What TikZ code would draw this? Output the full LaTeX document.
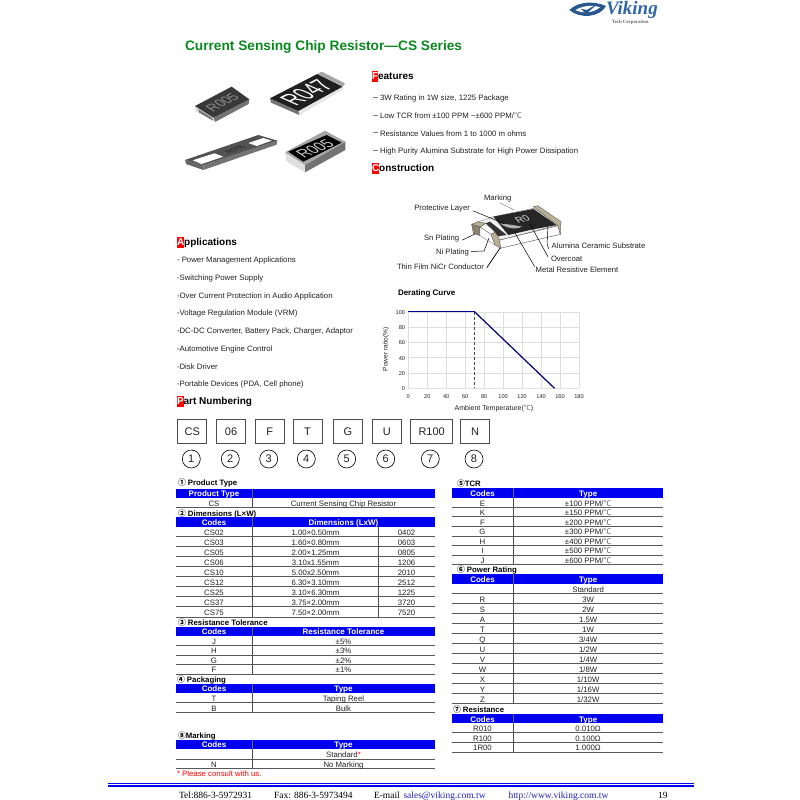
\documentclass[tikz,border=0pt]{standalone}
\usepackage{fontspec}
\setmainfont{Liberation Sans}
\newfontfamily\seriffam{Liberation Serif}
\newfontfamily\cjkf{Noto Sans CJK SC}
\newcommand{\degC}{{\cjkf\color{txt!70}℃}}
\definecolor{txt}{HTML}{222222}
\definecolor{hdrblue}{HTML}{0000F0}
\definecolor{titlegreen}{HTML}{0A8A1E}
\definecolor{linkblue}{HTML}{2020C0}
\definecolor{logoblue}{HTML}{2F66A8}
\definecolor{capTan}{HTML}{B8AF95}
\newcounter{rowno}
\tikzset{
 x=1pt,y=-1pt,
 every node/.style={inner sep=0pt,outer sep=0pt,text=txt},
 body/.style={anchor=mid west,yshift=-1pt,font=\fontsize{7.8}{9}\selectfont},
 head/.style={anchor=mid west,yshift=-1.3pt,font=\fontsize{10}{11}\selectfont\bfseries,text=black},
 sect/.style={anchor=mid west,yshift=-0.8pt,font=\fontsize{7.8}{9}\selectfont\bfseries,text=black},
 cell/.style={font=\fontsize{7.8}{9}\selectfont,anchor=mid,yshift=-0.9pt},
 hcell/.style={font=\fontsize{8}{9}\selectfont\bfseries,text=white,anchor=mid,yshift=-0.7pt},
 rule/.style={draw=black!65,line width=0.8pt},
 vrule/.style={draw=black!70,line width=0.7pt},
 hdrbar/.style={fill=hdrblue},
 lab/.style={anchor=mid west,yshift=-0.8pt,font=\fontsize{7.7}{9}\selectfont},
 leader/.style={draw=black,line width=0.5pt},
 partbox/.style={draw=black!70,line width=0.9pt,minimum height=24pt,font=\fontsize{11}{12}\selectfont},
 partnum/.style={draw=black,line width=0.6pt,circle,minimum size=18pt,font=\fontsize{11}{12}\selectfont},
 axisnum/.style={font=\fontsize{5.6}{6}\selectfont},
 grid line/.style={draw=black!13,line width=0.4pt},
 foot/.style={anchor=mid west,font=\fontsize{9.5}{11}\selectfont\seriffam,text=black},
 chiptext/.style={font=\fontsize{#1}{#1}\selectfont},
}
% x0 xsplit x1 ybottom left right
\newcommand{\Row}[6]{\stepcounter{rowno}%
 \draw[rule] (#1,#4) -- (#3,#4);
 \node[cell] (ca\arabic{rowno}) at ({(#1+#2)/2},{#4-4.8}) {#5};
 \node[cell] (cb\arabic{rowno}) at ({(#2+#3)/2},{#4-4.8}) {#6};}
% x0 xsplit x1 ytop ybot left right
\newcommand{\Hdr}[7]{\stepcounter{rowno}%
 \fill[hdrbar] (#1,#4) rectangle (#3,#5);
 \draw[black!60,line width=0.4pt] (#2,#4) -- (#2,#5);
 \node[hcell] (ha\arabic{rowno}) at ({(#1+#2)/2},{(#4+#5)/2}) {#6};
 \node[hcell] (hb\arabic{rowno}) at ({(#2+#3)/2},{(#4+#5)/2}) {#7};}
\newcommand{\Hd}[5]{\node[head] (#1) at (#2,#3) {\setlength{\fboxsep}{0pt}\colorbox{red}{\rule[-2pt]{0pt}{10.5pt}\textcolor{white}{#4}}#5};}
\begin{document}
\begin{tikzpicture}
\useasboundingbox (0,0) rectangle (800,800);
\fill[white] (0,0) rectangle (800,800);

% ---------- logo
\begin{scope}[shift={(550,0)},scale=1/3]
 \fill[logoblue!85!black] (58,30) .. controls (85,3) and (135,3) .. (168,18) .. controls (150,52) and (90,58) .. (58,30) -- cycle;
 \fill[white] (76,30) .. controls (98,17) and (128,14) .. (150,22) .. controls (132,38) and (98,42) .. (76,30) -- cycle;
 \fill[logoblue!85!black] (92,26) -- (108,42) -- (142,12) -- (110,30) -- cycle;
\end{scope}
\node[anchor=mid west,font=\fontsize{19}{19}\selectfont\seriffam\bfseries\itshape,text=logoblue] (logo) at (606,12) {Viking};
\node[anchor=mid west,font=\fontsize{4.8}{5}\selectfont\seriffam\bfseries,text=black!60] (logosub) at (612,20.5) {Tech Corporation};

% ---------- title
\node[anchor=mid west,font=\fontsize{13.7}{16}\selectfont\bfseries,text=titlegreen] (title) at (185,47.5) {Current Sensing Chip Resistor—CS Series};

% ---------- chip photos
\begin{scope}[shift={(170,70)},scale=1/3]
 % chip 1
 \fill[black!55] (130,143) -- (238,88) -- (236,102) -- (135,156) -- cycle;
 \fill[black!15] (75,108) -- (130,143) -- (135,156) -- (78,124) -- cycle;
 \fill[black!55] (85,118) -- (125,143) -- (130,152) -- (88,128) -- cycle;
 \fill[black!78] (75,108) -- (185,50) -- (238,88) -- (130,143) -- cycle;
 \node[chiptext=15,text=black!45,cm={.76,.40,-.80,.51,(0,0)}] (chipa) at (157,97) {R005};
 % chip 2
 \fill[black!10] (385,123) -- (522,50) -- (518,60) -- (388,135) -- cycle;
 \fill[black!55] (300,85) -- (385,123) -- (388,135) -- (303,98) -- cycle;
 \fill[black!88] (300,85) -- (442,12) -- (518,50) -- (385,123) -- cycle;
 \fill[black!35] (442,12) -- (455,5) -- (525,40) -- (518,50) -- cycle;
 \node[chiptext=22,text=white,cm={.74,.38,-1.16,.52,(0,0)}] (chipb) at (410,68) {R047};
 % chip 3
 \fill[black!55] (100,285) -- (322,212) -- (320,224) -- (100,300) -- cycle;
 \fill[black!60] (45,270) -- (100,285) -- (100,300) -- (48,282) -- cycle;
 \fill[black!68] (45,270) -- (265,195) -- (322,212) -- (100,285) -- cycle;
 \fill[white] (68,271) -- (133,250) -- (160,260) -- (95,282) -- cycle;
 \fill[white] (235,219) -- (280,204) -- (305,212) -- (260,228) -- cycle;
 \node[chiptext=8,text=black!90,cm={.9,.31,-1.0,.27,(0,0)}] (chipc) at (196,238) {R005};
 % chip 4
 \fill[black!12] (345,247) -- (405,285) -- (405,307) -- (350,275) -- cycle;
 \fill[black!55] (405,285) -- (526,215) -- (526,240) -- (405,307) -- cycle;
 \fill[black!35] (345,247) -- (465,182) -- (526,215) -- (405,285) -- cycle;
 \fill[black] (355,245) -- (470,195) -- (515,218) -- (400,275) -- cycle;
 \node[chiptext=15,text=white!80!black,cm={.87,.38,-.92,.61,(0,0)}] (chipd) at (435,236) {R005};
\end{scope}

% ---------- features
\Hd{features}{372}{76}{F}{eatures}
\foreach \yy/\ttx [count=\i] in {97/{3W Rating in 1W size, 1225 Package},
 115/{Low TCR from ±100 PPM \textasciitilde ±600 PPM/\degC},
 132.5/{Resistance Values from 1 to 1000 m ohms},
 150/{High Purity Alumina Substrate for High Power Dissipation}}{
 \draw[black!50,line width=0.5pt] (373,\yy) -- (378,\yy);
 \node[body] (feat\i) at (380,\yy) {\ttx};
}
\Hd{construction}{372}{168}{C}{onstruction}

% ---------- construction drawing
\begin{scope}[shift={(465,195)},scale=1/3]
 \fill[black!6,draw=black!60,line width=0.3pt] (35,82) -- (85,65) -- (205,40) -- (285,88) -- (105,135) -- cycle;
 \fill[black!85] (85,65) -- (205,42) -- (275,90) -- (195,105) -- (130,120) -- cycle;
 \fill[black!30] (105,85) .. controls (130,88) and (155,92) .. (172,95) .. controls (150,105) and (125,100) .. (105,85) -- cycle;
 \node[chiptext=11,text=black!15,cm={.9,.2,-.6,.7,(0,0)}] (chipe) at (172,72) {R0};
 \fill[white,draw=black!70,line width=0.4pt] (105,135) -- (280,92) -- (286,118) -- (105,160) -- cycle;
 \fill[capTan,draw=black!70,line width=0.3pt] (205,35) -- (218,32) -- (288,80) -- (286,118) -- (278,92) -- cycle;
 \fill[black!80] (62,85) -- (75,80) -- (125,120) -- (90,125) -- cycle;
 \fill[white,draw=black!60,line width=0.3pt] (45,96) -- (62,85) -- (90,112) -- (78,118) -- cycle;
 \fill[capTan,draw=black!70,line width=0.3pt] (20,88) -- (38,80) -- (62,85) -- (45,96) -- cycle;
 \fill[capTan!75!black,draw=black!70,line width=0.3pt] (20,88) -- (45,96) -- (45,122) -- (25,115) -- cycle;
 \fill[white,draw=black!60,line width=0.3pt] (45,96) -- (78,118) -- (90,150) -- (45,122) -- cycle;
 \fill[capTan,draw=black!70,line width=0.3pt] (78,118) -- (90,112) -- (100,125) -- (108,160) -- (90,150) -- cycle;
\end{scope}
\node[lab] (lmark) at (484,196.7) {Marking};
\node[lab] (lprot) at (414.3,207.3) {Protective Layer};
\node[lab] (lsn) at (424,236.7) {Sn Plating};
\node[lab] (lni) at (436,251) {Ni Plating};
\node[lab] (lthin) at (397,266) {Thin Film NiCr Conductor};
\node[lab] (lalu) at (551.7,245) {Alumina Ceramic Substrate};
\node[lab] (lover) at (551,258) {Overcoat};
\node[lab] (lmetal) at (535.7,269) {Metal Resistive Element};
\coordinate (pmark) at (514,210);
\coordinate (pprot) at (505,224);
\coordinate (psn) at (475,234);
\coordinate (pni) at (489,238);
\coordinate (pthin) at (500,248);
\coordinate (palu) at (548,227);
\coordinate (pover) at (530,224);
\coordinate (pmetal) at (515,233);
\draw[leader,black!50] (lmark.south) ++(2,1) -- (pmark);
\draw[leader] (lprot.east) ++(3,2) -- (pprot);
\draw[leader] (lsn.east) ++(3,2) -- (psn);
\draw[leader] (lni.east) ++(2,-1) -- (484,251) -- (pni);
\draw[leader,line width=0.7pt] (lthin.east) ++(3,1) -- (pthin);
\draw[leader] (lalu.west) ++(-3,3) -- (547,244) -- (palu);
\draw[leader] (lover.west) ++(-3,-2) -- (pover);
\draw[leader] (lmetal.west) ++(-1,-3) -- (pmetal);

% ---------- applications
\Hd{applications}{177}{242}{A}{pplications}
\foreach \yy/\ttx [count=\i] in {259/{- Power Management Applications},
 277/{-Switching Power Supply},
 295/{-Over Current Protection in Audio Application},
 312/{-Voltage Regulation Module (VRM)},
 330/{-DC-DC Converter, Battery Pack, Charger, Adaptor},
 348/{-Automotive Engine Control},
 366/{-Disk Driver},
 383/{-Portable Devices (PDA, Cell phone)}}{
 \node[body] (app\i) at (177,\yy) {\ttx};
}
\Hd{partnumbering}{177}{401}{P}{art Numbering}

% ---------- derating curve
\node[anchor=mid west,yshift=-0.8pt,font=\fontsize{8}{9}\selectfont\bfseries,text=black] (dtitle) at (398,292) {Derating Curve};
\foreach \v in {0,20,...,180}{
 \draw[grid line] ({408.3+\v*0.9483},311.7) -- ({408.3+\v*0.9483},388.3);
 \node[axisnum] (xn\v) at ({408.3+\v*0.9483},396.7) {\v};
}
\foreach \v in {0,20,...,100}{
 \draw[grid line] (408.3,{388.3-\v*0.766}) -- (579,{388.3-\v*0.766});
 \node[axisnum,anchor=mid east] (yn\v) at (405,{388.3-\v*0.766}) {\v};
}
\draw[black!70,densely dashed,line width=0.6pt] (474.5,311.7) -- (474.5,388.3);
\draw[blue!60!black,line width=0.8pt] (408.3,311.7) -- (474.5,311.7);
\draw[blue!45!black,line width=1.2pt] (474.5,311.7) -- (554.5,388.3);
\node[font=\fontsize{7}{8}\selectfont] (xlabel) at (494,408.3) {Ambient Temperature(\degC)};
\node[font=\fontsize{6.6}{8}\selectfont,rotate=90] (ylabel) at (386,349.3) {Power ratio(\%)};

% ---------- part number boxes
\foreach \nm/\xc/\w/\ttx/\cx [count=\i] in {
 a/192.2/29/CS/191.3, b/231/29.4/06/230.3, c/269.8/29/F/268.7, d/307.5/29/T/306.3,
 e/347.8/29/G/346.7, f/386.8/29/U/385.7, g/431.7/42/R100/430.3, h/475/29.4/N/474}{
 \node[partbox,minimum width=\w pt] (box\nm) at (\xc,431.3) {\ttx};
 \node[partnum] (num\nm) at (\cx,459) {\i};
}

% ---------- left tables
\node[sect] (t1) at (178,482) {{\cjkf ①} Product Type};
\Hdr{176}{252}{435}{489}{498.3}{Product Type}{}
\Row{176}{252}{435}{507.7}{CS}{Current Sensing Chip Resistor}
\draw[vrule] (252,498.3) -- (252,507.7);

\node[sect] (t2) at (178,512.7) {{\cjkf ②} Dimensions (L×W)};
\Hdr{176}{252}{435}{517.3}{526.7}{Codes}{Dimensions (LxW)}
\foreach \yb/\aa/\bb/\cc [count=\i] in {
 536.7/CS02/1.00×0.50mm/0402, 546.7/CS03/1.60×0.80mm/0603, 556.7/CS05/2.00×1.25mm/0805,
 566.7/CS06/3.10x1.55mm/1206, 576.7/CS10/5.00x2.50mm/2010, 586.7/CS12/6.30×3.10mm/2512,
 596.7/CS25/3.10×6.30mm/1225, 606.7/CS37/3.75×2.00mm/3720, 617/CS75/7.50×2.00mm/7520}{
 \draw[rule] (176,\yb) -- (435,\yb);
 \node[cell] (dima\i) at (214,\yb-4.8) {\aa};
 \node[cell] (dimb\i) at (315.5,\yb-4.8) {\bb};
 \node[cell] (dimc\i) at (406.5,\yb-4.8) {\cc};
}
\draw[vrule] (252,526.7) -- (252,617);
\draw[vrule] (378.5,526.7) -- (378.5,617);

\node[sect] (t3) at (178,622.3) {{\cjkf ③} Resistance Tolerance};
\Hdr{176}{252}{435}{626.7}{636}{Codes}{Resistance Tolerance}
\Row{176}{252}{435}{645.3}{J}{±5\%}
\Row{176}{252}{435}{655}{H}{±3\%}
\Row{176}{252}{435}{664.3}{G}{±2\%}
\Row{176}{252}{435}{674}{F}{±1\%}
\draw[vrule] (252,636) -- (252,674);

\node[sect] (t4) at (177,679.3) {{\cjkf ④} Packaging};
\Hdr{176}{252}{435}{683.7}{693.3}{Codes}{Type}
\Row{176}{252}{435}{702.7}{T}{Taping Reel}
\Row{176}{252}{435}{712.3}{B}{Bulk}
\draw[vrule] (252,693.3) -- (252,712.3);

\node[sect] (t8) at (178,735.3) {{\cjkf ⑧}Marking};
\Hdr{176}{252}{435}{739.7}{749.3}{Codes}{Type}
\Row{176}{252}{435}{759}{}{Standard\textcolor{red}{*}}
\Row{176}{252}{435}{768.3}{N}{No Marking}
\draw[vrule] (252,749.3) -- (252,768.3);
\node[body,text=red] (note) at (177,773.3) {* Please consult with us.};

% ---------- right tables
\node[sect] (t5) at (457,483.3) {{\cjkf ⑤}TCR};
\Hdr{451.7}{513.3}{663}{488.3}{497.7}{Codes}{Type}
\Row{451.7}{513.3}{663}{507.3}{E}{±100 PPM/\degC}
\Row{451.7}{513.3}{663}{516.7}{K}{±150 PPM/\degC}
\Row{451.7}{513.3}{663}{526.3}{F}{±200 PPM/\degC}
\Row{451.7}{513.3}{663}{536}{G}{±300 PPM/\degC}
\Row{451.7}{513.3}{663}{545.3}{H}{±400 PPM/\degC}
\Row{451.7}{513.3}{663}{555}{I}{±500 PPM/\degC}
\Row{451.7}{513.3}{663}{564.3}{J}{±600 PPM/\degC}
\draw[vrule] (513.3,497.7) -- (513.3,564.3);

\node[sect] (t6) at (457,569.3) {{\cjkf ⑥} Power Rating};
\Hdr{451.7}{513.3}{663}{574}{583.7}{Codes}{Type}
\Row{451.7}{513.3}{663}{593.3}{}{Standard}
\Row{451.7}{513.3}{663}{603.3}{R}{3W}
\Row{451.7}{513.3}{663}{613.3}{S}{2W}
\Row{451.7}{513.3}{663}{623.3}{A}{1.5W}
\Row{451.7}{513.3}{663}{633.7}{T}{1W}
\Row{451.7}{513.3}{663}{643.7}{Q}{3/4W}
\Row{451.7}{513.3}{663}{653.7}{U}{1/2W}
\Row{451.7}{513.3}{663}{663.7}{V}{1/4W}
\Row{451.7}{513.3}{663}{673.7}{W}{1/8W}
\Row{451.7}{513.3}{663}{683.7}{X}{1/10W}
\Row{451.7}{513.3}{663}{693.7}{Y}{1/16W}
\Row{451.7}{513.3}{663}{703.7}{Z}{1/32W}
\draw[vrule] (513.3,583.7) -- (513.3,703.7);

\node[sect] (t7) at (453,709) {{\cjkf ⑦} Resistance};
\Hdr{451.7}{513.3}{663}{714}{723.3}{Codes}{Type}
\Row{451.7}{513.3}{663}{732.7}{R010}{0.010Ω}
\Row{451.7}{513.3}{663}{742.3}{R100}{0.100Ω}
\Row{451.7}{513.3}{663}{752}{1R00}{1.000Ω}
\draw[vrule] (513.3,723.3) -- (513.3,752);

% ---------- footer
\fill[hdrblue] (108,782.6) rectangle (694,784);
\fill[hdrblue] (108,784.6) rectangle (694,786.8);
\node[foot] (ftel) at (179,796) {Tel:886-3-5972931};
\node[foot] (ffax) at (274,796) {Fax: 886-3-5973494};
\node[foot] (fmail) at (374,796) {E-mail};
\node[foot,text=linkblue] (flink) at (403.5,796) {sales@viking.com.tw};
\draw[linkblue,line width=0.4pt] (flink.south west) -- (flink.south east);
\node[foot,text=linkblue] (fweb) at (508.5,796) {http://www.viking.com.tw};
\draw[linkblue,line width=0.4pt] (fweb.south west) -- (fweb.south east);
\node[foot] (fpage) at (658,796) {19};
\end{tikzpicture}
\end{document}
